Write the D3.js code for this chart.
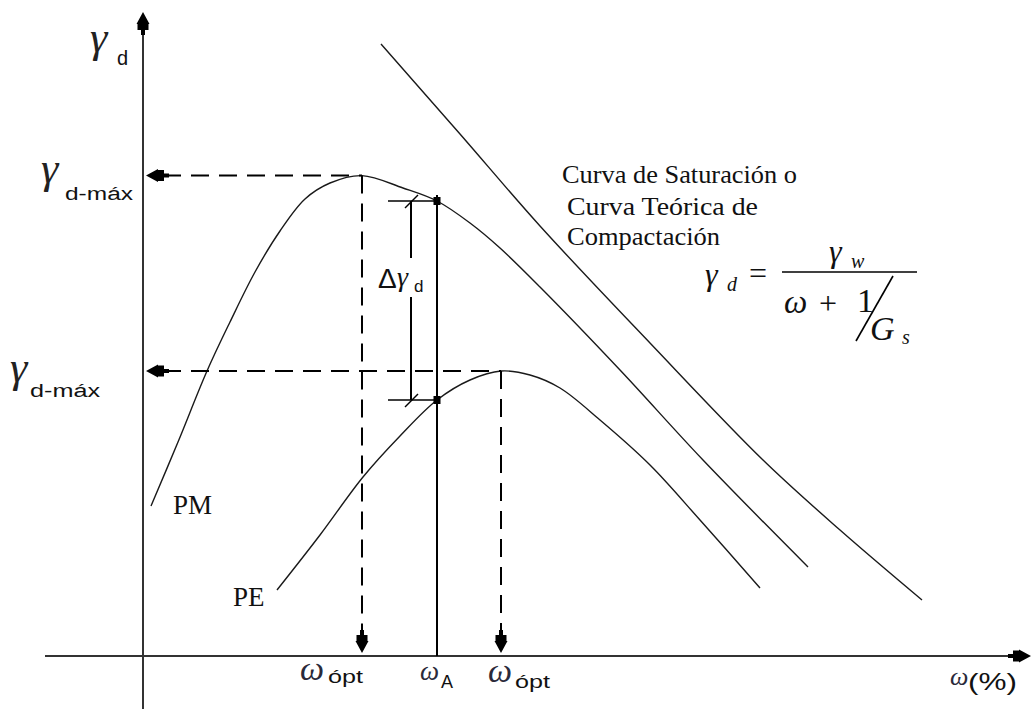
<!DOCTYPE html>
<html><head><meta charset="utf-8">
<script src="https://cdn.jsdelivr.net/npm/d3@7"></script>
<style>body{margin:0;background:#fff}svg{display:block}</style>
</head><body><svg id="c" width="1032" height="709"></svg>
<script>
// ---- data (schematic units: w in %, gamma_d arbitrary) ----
const pmCurve = [[0.4,7.5],[1.75,10.7],[3.2,14.25],[4.35,16.7],[5.6,19.2],[6.85,21.25],[8.1,22.85],[9.35,23.65],[10.95,24.02],[13.0,23.4],[14.7,22.75],[16.35,21.65],[17.85,20.4],[19.85,18.45],[23.85,14.3],[28.0,9.8],[33.25,4.45]];
const peCurve = [[6.7,3.3],[8.85,6.05],[11.0,8.95],[12.85,11.0],[14.7,12.8],[16.35,13.8],[17.9,14.25],[19.35,14.05],[20.85,13.4],[22.85,11.8],[25.35,9.55],[27.85,6.8],[30.85,3.4]];
const saturationCurve = [[11.9,30.6],[15.85,26.1],[19.85,21.5],[25.35,15.65],[31.0,9.8],[34.85,6.3],[38.95,2.8]];
const wOpt = [10.95, 17.9];
const gammaMax = [24.02, 14.25];
const wA = 14.7;
const gammaAtA = [22.75, 12.8];   // PM, PE at wA
const dimX = [13.4];               // x of the delta dimension line
const xAxisExtent = [-4.9, 44.4];
const yAxisExtent = [-2.65, 32.2];
const curveLabels = ["PM", "PE"];
const yLabelSub = ["d-máx", "d-máx"];
const xLabels = [["ω","ópt"],["ω","A"],["ω","ópt"],["ω","(%)"]];
const titleLines = ["Curva de Saturación o", "Curva Teórica  de", "Compactación"];

const svg = d3.select("#c");
const x = d3.scaleLinear().domain([0, 44.4]).range([143, 1031]);
const y = d3.scaleLinear().domain([0, 32.2]).range([656, 12]);

const serif = "'Liberation Serif','Times New Roman',serif";
const sans = "'Liberation Sans',Arial,sans-serif";
const ink = "#111";

// axes
svg.append("line").attr("x1", x(0)).attr("x2", x(0)).attr("y1", y(yAxisExtent[0])).attr("y2", y(yAxisExtent[1]) + 6)
  .attr("stroke", "#333").attr("stroke-width", 2);
svg.append("line").attr("x1", x(xAxisExtent[0])).attr("x2", x(xAxisExtent[1]) - 6).attr("y1", y(0)).attr("y2", y(0))
  .attr("stroke", "#333").attr("stroke-width", 2);

const arrowPath = "M0,0 L-12,-6.5 L-12,-5.5 L-18,-5.5 L-18,-2 L-23,-2 L-23,2 L-18,2 L-18,5.5 L-12,5.5 L-12,6.5 Z";
function arrow(px, py, angle) {
  svg.append("path").attr("d", arrowPath).attr("fill", "#000")
    .attr("transform", `translate(${px},${py}) rotate(${angle})`);
}
arrow(x(0), y(yAxisExtent[1]), -90);
arrow(x(xAxisExtent[1]), y(0), 0);

const line = d3.line().x(d => x(d[0])).y(d => y(d[1])).curve(d3.curveCatmullRom.alpha(0.5));
[pmCurve, peCurve, saturationCurve].forEach(c => {
  svg.append("path").attr("d", line(c)).attr("fill", "none").attr("stroke", "#1a1a1a").attr("stroke-width", 1.4);
});

// dashed guide lines
const dash = "18,10";
gammaMax.forEach((g, i) => {
  svg.append("line").attr("x1", x(0) + 20).attr("x2", x(wOpt[i])).attr("y1", y(g)).attr("y2", y(g))
    .attr("stroke", "#000").attr("stroke-width", 2).attr("stroke-dasharray", dash);
  arrow(x(0) + 3, y(g), 180);
  svg.append("line").attr("x1", x(wOpt[i])).attr("x2", x(wOpt[i])).attr("y1", y(g)).attr("y2", y(0) - 24)
    .attr("stroke", "#000").attr("stroke-width", 2).attr("stroke-dasharray", dash);
  arrow(x(wOpt[i]), y(0) - 3, 90);
});

// w_A vertical + markers
svg.append("line").attr("x1", x(wA)).attr("x2", x(wA)).attr("y1", y(gammaAtA[0]) - 6).attr("y2", y(0))
  .attr("stroke", "#000").attr("stroke-width", 2);
gammaAtA.forEach(g => {
  svg.append("rect").attr("x", x(wA) - 3.5).attr("y", y(g) - 4).attr("width", 7).attr("height", 8).attr("fill", "#000");
  svg.append("line").attr("x1", x(dimX[0]) - 23).attr("x2", x(wA)).attr("y1", y(g)).attr("y2", y(g))
    .attr("stroke", "#000").attr("stroke-width", 1.6);
  svg.append("line").attr("x1", x(dimX[0]) - 6).attr("x2", x(dimX[0]) + 7).attr("y1", y(g) + 7).attr("y2", y(g) - 6)
    .attr("stroke", "#000").attr("stroke-width", 1.4);
});
svg.append("line").attr("x1", x(dimX[0])).attr("x2", x(dimX[0])).attr("y1", y(gammaAtA[0])).attr("y2", 258)
  .attr("stroke", "#000").attr("stroke-width", 2);
svg.append("line").attr("x1", x(dimX[0])).attr("x2", x(dimX[0])).attr("y1", 297).attr("y2", y(gammaAtA[1]))
  .attr("stroke", "#000").attr("stroke-width", 2);

function txt(px, py, s, font, size, opts = {}) {
  const t = svg.append("text").attr("x", px).attr("y", py).text(s)
    .attr("font-family", font).attr("font-size", size).attr("fill", opts.fill || ink);
  if (opts.italic) t.attr("font-style", "italic");
  if (opts.len) t.attr("textLength", opts.len).attr("lengthAdjust", "spacingAndGlyphs");
  return t;
}

// y labels
txt(90, 52, "γ", serif, 44, {italic: true, fill: "#222"});
txt(117, 65, "d", sans, 20);
const yLabOff = [[-102, 7.5, -78, 24.5, 68], [-133, 11, -113, 26, 70]];
gammaMax.forEach((g, i) => {
  const o = yLabOff[i];
  txt(x(0) + o[0], y(g) + o[1], "γ", serif, 44, {italic: true, fill: "#222"});
  txt(x(0) + o[2], y(g) + o[3], yLabelSub[i], sans, 18, {len: o[4]});
});

// x labels
const xPos = [wOpt[0], wA, wOpt[1], xAxisExtent[1]];
const xLabOff = [[-62, 24, -34, 27, 35, 34, 18], [-17, 24, 4, 32, 0, 27, 18], [-13, 26, 14, 32, 35, 34, 18], [-81, 29, -63, 34, 49, 26, 24]];
xLabels.forEach((l, i) => {
  const o = xLabOff[i], px = x(xPos[i]), py = y(0);
  txt(px + o[0], py + o[1], l[0], serif, o[5], {italic: true, fill: "#2a2a3a"});
  txt(px + o[2], py + o[3], l[1], sans, o[6], o[4] ? {len: o[4]} : {});
});

// delta gamma
txt(378, 288, "Δ", sans, 28);
txt(397, 286, "γ", serif, 28, {italic: true});
txt(414, 292, "d", sans, 17);

// curve labels
txt(x(pmCurve[0][0]) + 22, y(pmCurve[0][1]) + 8, curveLabels[0], serif, 27);
txt(x(peCurve[0][0]) - 44, y(peCurve[0][1]) + 16, curveLabels[1], serif, 27);

// title
const tPos = [[562, 183, 235], [567, 215, 191], [567, 245, 153]];
titleLines.forEach((s, i) => txt(tPos[i][0], tPos[i][1], s, serif, 26, {len: tPos[i][2]}));

// formula
txt(705, 285, "γ", serif, 32, {italic: true});
txt(727, 291, "d", serif, 20, {italic: true});
txt(749, 284, "=", serif, 32);
svg.append("line").attr("x1", 782).attr("x2", 917).attr("y1", 272).attr("y2", 272).attr("stroke", "#000").attr("stroke-width", 1.6);
txt(829, 262, "γ", serif, 32, {italic: true});
txt(851, 268, "w", serif, 20, {italic: true});
txt(784, 313, "ω", serif, 33, {italic: true});
txt(819, 314, "+", serif, 32);
txt(857, 312, "1", serif, 34);
svg.append("line").attr("x1", 893).attr("x2", 856).attr("y1", 276).attr("y2", 341).attr("stroke", "#000").attr("stroke-width", 1.6);
txt(870, 340, "G", serif, 34, {italic: true});
txt(902, 344, "s", serif, 20, {italic: true});
</script></body></html>
